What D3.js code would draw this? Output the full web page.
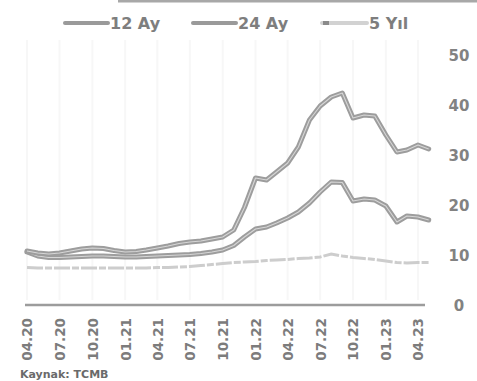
<!DOCTYPE html>
<html>
<head>
<meta charset="utf-8">
<script src="https://cdn.jsdelivr.net/npm/d3@7"></script>
<style>
  html, body { margin: 0; padding: 0; background: #fff; }
  svg { display: block; }
  text { font-family: "DejaVu Sans", sans-serif; font-weight: bold; }
</style>
</head>
<body>
<svg id="chart" width="477" height="381"></svg>
<script>
// Monthly survey expectations, 04.2020 – 05.2023 (%)
const months = [
  "2020-04","2020-05","2020-06","2020-07","2020-08","2020-09","2020-10","2020-11","2020-12",
  "2021-01","2021-02","2021-03","2021-04","2021-05","2021-06","2021-07","2021-08","2021-09",
  "2021-10","2021-11","2021-12","2022-01","2022-02","2022-03","2022-04","2022-05","2022-06",
  "2022-07","2022-08","2022-09","2022-10","2022-11","2022-12","2023-01","2023-02","2023-03",
  "2023-04","2023-05"
];
const ay12 = [
  10.8, 10.4, 10.2, 10.4, 10.8, 11.2, 11.4, 11.3, 10.9,
  10.6, 10.7, 11.0, 11.4, 11.8, 12.3, 12.6, 12.8, 13.2,
  13.6, 15.0, 19.5, 25.4, 25.0, 26.6, 28.4, 31.6, 37.0,
  39.8, 41.6, 42.4, 37.4, 38.0, 37.8, 34.0, 30.6, 31.0,
  32.0, 31.2
];
const ay24 = [
  10.6, 9.8, 9.5, 9.5, 9.6, 9.7, 9.8, 9.8, 9.7,
  9.6, 9.6, 9.7, 9.8, 9.9, 10.0, 10.1, 10.3, 10.6,
  11.0, 11.9, 13.6, 15.2, 15.6, 16.4, 17.4, 18.6, 20.4,
  22.6, 24.6, 24.5, 20.8, 21.2, 21.0, 19.8, 16.6, 17.8,
  17.6, 17.0
];
const yil5 = [
  7.5, 7.4, 7.4, 7.4, 7.4, 7.4, 7.4, 7.4, 7.4,
  7.4, 7.4, 7.4, 7.5, 7.5, 7.6, 7.7, 7.9, 8.1,
  8.3, 8.5, 8.6, 8.7, 8.9, 9.0, 9.1, 9.3, 9.4,
  9.6, 10.2, 9.8, 9.5, 9.3, 9.1, 8.8, 8.5, 8.4,
  8.5, 8.5
];
const tickMonths = [
  "2020-04","2020-07","2020-10","2021-01","2021-04","2021-07","2021-10",
  "2022-01","2022-04","2022-07","2022-10","2023-01","2023-04"
];
const yTicks = [0, 10, 20, 30, 40, 50];
const seriesNames = ["12 Ay", "24 Ay", "5 Yıl"];
const sourceNote = "Kaynak: TCMB";

const parse = d3.timeParse("%Y-%m");
const dates = months.map(parse);

const svg = d3.select("#chart");

const x = d3.scaleTime()
  .domain([parse("2020-04"), parse("2023-04")])
  .range([27, 418]);
const y = d3.scaleLinear().domain([0, 50]).range([305, 55]);

// thin rule along the top edge
svg.append("rect").attr("x", 118).attr("y", 0).attr("width", 359).attr("height", 2.5)
  .attr("fill", "#a8a8a8");

// faint vertical guides
svg.append("g").selectAll("line").data(tickMonths.map(parse)).join("line")
  .attr("x1", d => x(d)).attr("x2", d => x(d))
  .attr("y1", 40).attr("y2", 300)
  .attr("stroke", "#f7f7f7").attr("stroke-width", 2);

// x axis (quarterly labels, rotated)
const xAxis = d3.axisBottom(x)
  .tickValues(tickMonths.map(parse))
  .tickFormat(d3.timeFormat("%m.%y"))
  .tickSize(0);
const gx = svg.append("g").attr("transform", `translate(0,${y(0)})`).call(xAxis);
gx.select(".domain").remove();
gx.selectAll("text")
  .attr("transform", "rotate(-90)")
  .attr("x", -13).attr("y", 0).attr("dy", "0.36em")
  .attr("text-anchor", "end")
  .attr("fill", "#7c7c7c")
  .style("font-size", "13.5px");

// baseline
svg.append("line")
  .attr("x1", 25).attr("x2", 425)
  .attr("y1", y(0)).attr("y2", y(0))
  .attr("stroke", "#9c9c9c").attr("stroke-width", 2.5);

// y axis on the right
const yAxis = d3.axisRight(y).tickValues(yTicks).tickSize(0).tickFormat(d3.format("d"));
const gy = svg.append("g").attr("transform", "translate(459,0)").call(yAxis);
gy.select(".domain").remove();
gy.selectAll("text")
  .attr("x", 0).attr("dy", "0.36em")
  .attr("text-anchor", "middle")
  .attr("fill", "#828282")
  .style("font-size", "15px");

const line = d3.line().x((d, i) => x(dates[i])).y(d => y(d)).curve(d3.curveLinear);

// 5 Yıl — light, broken line
svg.append("path").datum(yil5)
  .attr("d", line).attr("fill", "none")
  .attr("stroke", "#cdcdcd").attr("stroke-width", 3)
  .attr("stroke-dasharray", "16,2,7,2");

// 12 Ay and 24 Ay — grey outlined strokes
[ay24, ay12].forEach(vals => {
  svg.append("path").datum(vals)
    .attr("d", line).attr("fill", "none")
    .attr("stroke", "#9d9d9d").attr("stroke-width", 5)
    .attr("stroke-linejoin", "round").attr("stroke-linecap", "round");
  svg.append("path").datum(vals)
    .attr("d", line).attr("fill", "none")
    .attr("stroke", "#d6d6d6").attr("stroke-width", 1.1)
    .attr("stroke-linejoin", "round");
});

// legend
const legend = [
  { name: seriesNames[0], x1: 65, x2: 108, tx: 110, color: "#9a9a9a" },
  { name: seriesNames[1], x1: 193, x2: 236, tx: 238, color: "#9a9a9a" },
  { name: seriesNames[2], x1: 322, x2: 367, tx: 369, color: "#d2d2d2" }
];
const lg = svg.append("g");
legend.forEach(l => {
  lg.append("line")
    .attr("x1", l.x1).attr("x2", l.x2).attr("y1", 23).attr("y2", 23)
    .attr("stroke", l.color).attr("stroke-width", 4).attr("stroke-linecap", "round");
  lg.append("text")
    .attr("x", l.tx).attr("y", 29)
    .attr("fill", "#7e7e7e")
    .style("font-size", "16px")
    .text(l.name);
});
lg.append("line").attr("x1", 323).attr("x2", 329).attr("y1", 23).attr("y2", 23)
  .attr("stroke", "#8a8a8a").attr("stroke-width", 4);

// source note at the bottom edge
svg.append("text")
  .attr("x", 20).attr("y", 378)
  .attr("fill", "#6a6a6a")
  .style("font-size", "11px")
  .text(sourceNote);
</script>
</body>
</html>
